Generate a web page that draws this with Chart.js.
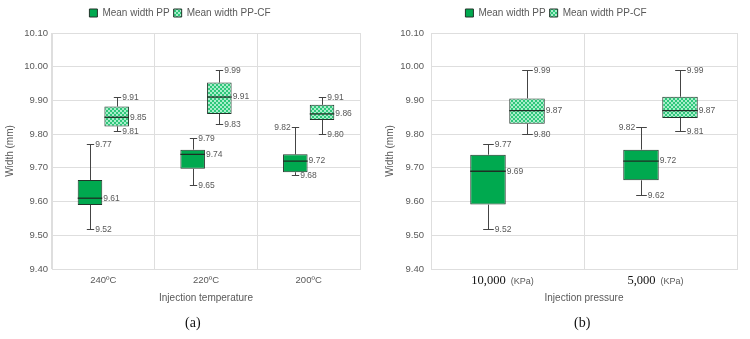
<!DOCTYPE html>
<html>
<head>
  <meta charset="UTF-8">
  <title>Width box plots</title>
  <script src="https://cdn.jsdelivr.net/npm/chart.js"></script>
  <style>
    html, body { margin: 0; padding: 0; background: #fff; }
    #wrap { width: 750px; height: 339px; display: flex; }
    .panel { position: relative; width: 375px; height: 339px; }
    .panel canvas { display: block; }
    .caption { position: absolute; top: 315px; line-height: 16px; font-family: 'Liberation Serif', serif; font-size: 14px; color: #111; }
  </style>
</head>
<body>
  <div id="wrap">
    <div class="panel"><canvas id="chartA" width="375" height="339"></canvas><div class="caption" style="left:185px">(a)</div></div>
    <div class="panel"><canvas id="chartB" width="375" height="339"></canvas><div class="caption" style="left:199px">(b)</div></div>
  </div>

  <script>
    // (a) injection temperature
    const tempLabels   = ['240ºC', '220ºC', '200ºC'];
    const tempPpMin    = [9.52, 9.65, 9.68];
    const tempPpQ1     = [9.59, 9.697, 9.687];
    const tempPpMedian = [9.61, 9.74, 9.72];
    const tempPpQ3     = [9.664, 9.754, 9.74];
    const tempPpMax    = [9.77, 9.79, 9.82];
    const tempCfMin    = [9.81, 9.83, 9.80];
    const tempCfQ1     = [9.823, 9.86, 9.842];
    const tempCfMedian = [9.85, 9.91, 9.86];
    const tempCfQ3     = [9.882, 9.953, 9.887];
    const tempCfMax    = [9.91, 9.99, 9.91];

    // (b) injection pressure
    const pressLabels   = ['10,000', '5,000'];
    const pressUnit     = '(KPa)';
    const pressPpMin    = [9.52, 9.62];
    const pressPpQ1     = [9.591, 9.663];
    const pressPpMedian = [9.69, 9.72];
    const pressPpQ3     = [9.739, 9.754];
    const pressPpMax    = [9.77, 9.82];
    const pressCfMin    = [9.80, 9.81];
    const pressCfQ1     = [9.831, 9.848];
    const pressCfMedian = [9.87, 9.87];
    const pressCfQ3     = [9.906, 9.911];
    const pressCfMax    = [9.99, 9.99];

    // y axis
    const yMin = 9.40, yMax = 10.10, yStep = 0.10;

    // which side the max label of the PP box sits on
    const tempPpMaxSide  = ['right', 'right', 'left'];
    const pressPpMaxSide = ['right', 'left'];

    const SANS  = "'Liberation Sans', Arial, sans-serif";
    const GREY  = '#595959';
    const GRID  = '#dedede';

    // checkered fill for PP-CF
    function checker() {
      const c = document.createElement('canvas');
      c.width = 4; c.height = 4;
      const g = c.getContext('2d');
      g.fillStyle = '#a9eecb'; g.fillRect(0, 0, 4, 4);
      g.fillStyle = '#2ec77a'; g.fillRect(0, 0, 2, 2); g.fillRect(2, 2, 2, 2);
      return g.createPattern(c, 'repeat');
    }

    // whiskers, medians and value labels on top of the floating bars
    const boxPlot = {
      id: 'boxPlot',
      afterLayout(chart) {
        // pull the legend up a little, closer to the top edge
        chart.legend.top -= 5;
        chart.legend.bottom -= 5;
      },
      afterDatasetsDraw(chart) {
        const ctx = chart.ctx, y = chart.scales.y;
        chart.data.datasets.forEach((ds, d) => {
          const st = ds.stats;
          chart.getDatasetMeta(d).data.forEach((bar, i) => {
            const x = Math.round(bar.x) + 0.5;
            const half = bar.width / 2, cap = bar.width * 0.15;
            const pMin = Math.round(y.getPixelForValue(st.min[i])) + 0.5;
            const pMax = Math.round(y.getPixelForValue(st.max[i])) + 0.5;
            const pQ1  = y.getPixelForValue(st.q1[i]);
            const pQ3  = y.getPixelForValue(st.q3[i]);
            const pMed = y.getPixelForValue(st.median[i]);
            ctx.save();
            ctx.strokeStyle = '#444';
            ctx.lineWidth = 1;
            ctx.beginPath();
            ctx.moveTo(x, pQ3); ctx.lineTo(x, pMax);
            ctx.moveTo(x - cap, pMax); ctx.lineTo(x + cap, pMax);
            ctx.moveTo(x, pQ1); ctx.lineTo(x, pMin);
            ctx.moveTo(x - cap, pMin); ctx.lineTo(x + cap, pMin);
            ctx.stroke();
            ctx.strokeStyle = '#1e2f24';
            ctx.lineWidth = 1.3;
            ctx.beginPath();
            ctx.moveTo(bar.x - half, pMed); ctx.lineTo(bar.x + half, pMed);
            ctx.stroke();

            ctx.fillStyle = GREY;
            ctx.font = '8.5px ' + SANS;
            ctx.textBaseline = 'middle';
            const side = st.maxSide ? st.maxSide[i] : 'right';
            if (side === 'left') {
              ctx.textAlign = 'right';
              ctx.fillText(st.max[i].toFixed(2), x - cap - 1, pMax);
            } else {
              ctx.textAlign = 'left';
              ctx.fillText(st.max[i].toFixed(2), x + cap + 1, pMax);
            }
            ctx.textAlign = 'left';
            ctx.fillText(st.median[i].toFixed(2), bar.x + half + 1, pMed);
            ctx.fillText(st.min[i].toFixed(2), x + cap + 1, pMin);
            ctx.restore();
          });
        });
      }
    };

    // mixed-font tick labels for the pressure panel
    const unitTicks = {
      id: 'unitTicks',
      afterDraw(chart, args, opts) {
        if (!opts.unit) return;
        const ctx = chart.ctx, xs = chart.scales.x;
        ctx.save();
        ctx.textBaseline = 'middle';
        ctx.textAlign = 'left';
        chart.data.labels.forEach((lab, i) => {
          ctx.font = '12.5px "Liberation Serif", serif';
          const w1 = ctx.measureText(lab).width;
          ctx.font = '9px ' + SANS;
          const w2 = ctx.measureText(opts.unit).width;
          const gap = 5;
          const x0 = xs.getPixelForValue(i) - 5 - (w1 + gap + w2) / 2;
          const yy = chart.chartArea.bottom + 12;
          ctx.font = '12.5px "Liberation Serif", serif';
          ctx.fillStyle = '#111';
          ctx.fillText(lab, x0, yy);
          ctx.font = '9px ' + SANS;
          ctx.fillStyle = GREY;
          ctx.fillText(opts.unit, x0 + w1 + gap, yy + 0.5);
        });
        ctx.restore();
      }
    };

    function buildChart(id, labels, pp, cf, cfg) {
      const ds = (label, s, bg) => ({
        label,
        data: s.q1.map((q, i) => [q, s.q3[i]]),
        stats: s,
        backgroundColor: bg,
        borderColor: '#22342a',
        borderWidth: 1,
        borderSkipped: false,
        categoryPercentage: cfg.catPct,
        barPercentage: cfg.barPct
      });
      return new Chart(document.getElementById(id), {
        type: 'bar',
        data: {
          labels,
          datasets: [
            ds('Mean width PP', pp, '#00a94f'),
            ds('Mean width PP-CF', cf, checker())
          ]
        },
        options: {
          responsive: false,
          animation: false,
          layout: { padding: { left: 0, right: cfg.padRight, top: 0, bottom: 26 } },
          plugins: {
            legend: {
              position: 'top',
              labels: { boxWidth: 8, boxHeight: 8, padding: 4, color: GREY, font: { size: 10, family: SANS } }
            },
            tooltip: { enabled: false },
            unitTicks: { unit: cfg.unit }
          },
          scales: {
            x: {
              grid: { color: GRID, offset: true, drawTicks: false },
              border: { color: GRID },
              ticks: { display: !cfg.unit, padding: 6, color: GREY, font: { size: 9.5, family: SANS } },
              title: { display: true, text: cfg.xTitle, color: GREY, font: { size: 10, family: SANS }, padding: { top: 0, bottom: 9 } },
              afterFit: s => { s.height = 44; }
            },
            y: {
              min: yMin, max: yMax,
              grid: { color: GRID, drawTicks: false },
              border: { color: GRID },
              ticks: { stepSize: yStep, padding: cfg.yTickPad, color: GREY, font: { size: 9.5, family: SANS }, callback: v => v.toFixed(2) },
              title: { display: true, text: 'Width (mm)', color: GREY, font: { size: 10, family: SANS }, padding: { top: cfg.yTitlePad, bottom: cfg.yTitlePad } },
              afterFit: s => { s.width = cfg.yWidth; s.paddingTop = 33; }
            }
          }
        },
        plugins: [boxPlot, unitTicks]
      });
    }

    buildChart('chartA', tempLabels,
      { min: tempPpMin, q1: tempPpQ1, median: tempPpMedian, q3: tempPpQ3, max: tempPpMax, maxSide: tempPpMaxSide },
      { min: tempCfMin, q1: tempCfQ1, median: tempCfMedian, q3: tempCfQ3, max: tempCfMax },
      { catPct: 0.52, barPct: 0.92, padRight: 15, yWidth: 52, yTickPad: 4, yTitlePad: 4, xTitle: 'Injection temperature' });

    buildChart('chartB', pressLabels,
      { min: pressPpMin, q1: pressPpQ1, median: pressPpMedian, q3: pressPpQ3, max: pressPpMax, maxSide: pressPpMaxSide },
      { min: pressCfMin, q1: pressCfQ1, median: pressCfMedian, q3: pressCfQ3, max: pressCfMax },
      { catPct: 0.51, barPct: 0.91, padRight: 13, yWidth: 56, yTickPad: 7, yTitlePad: 9, xTitle: 'Injection pressure', unit: pressUnit });
  </script>
</body>
</html>
